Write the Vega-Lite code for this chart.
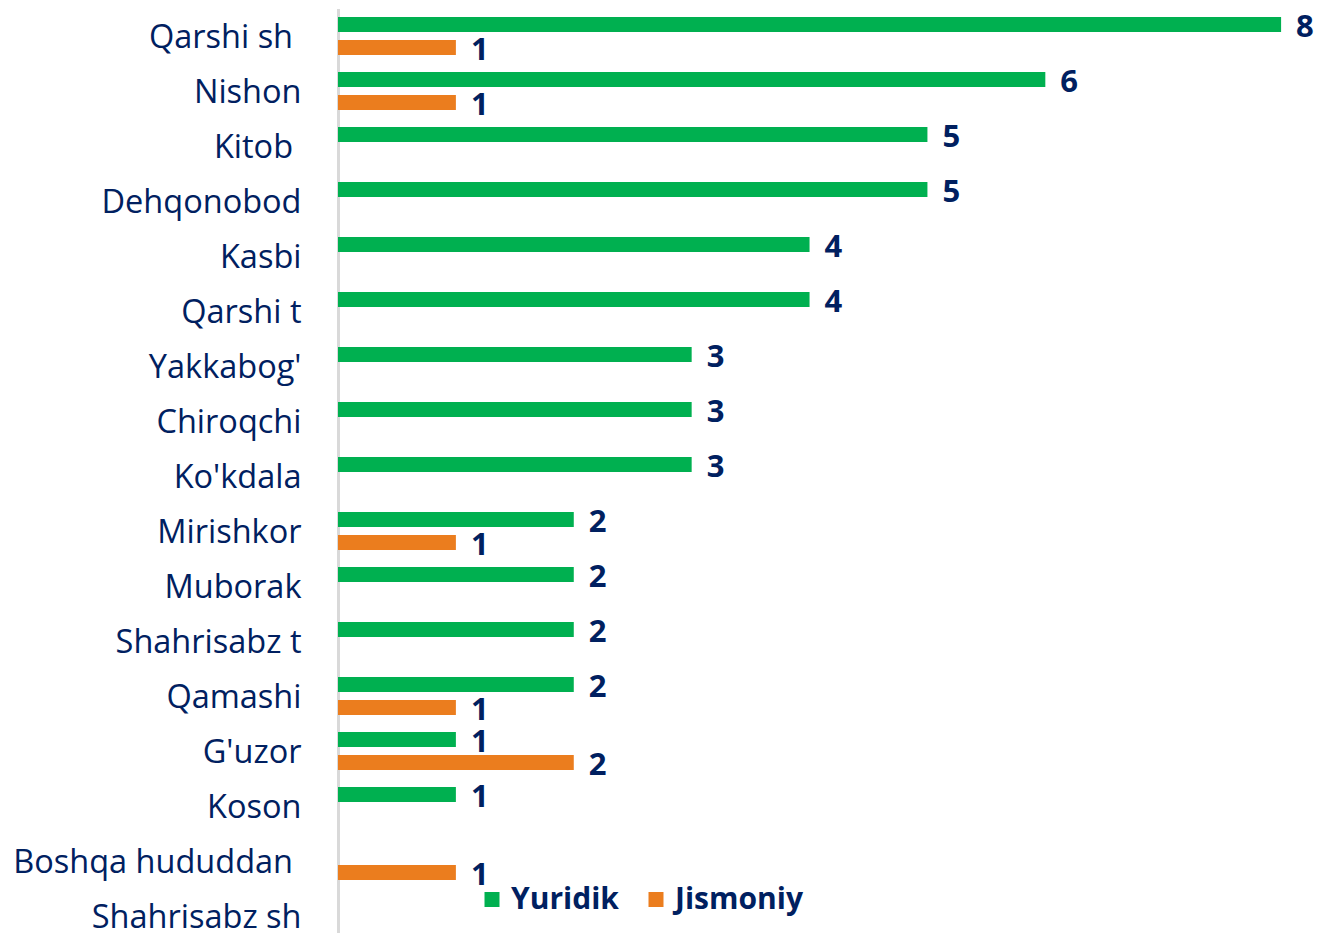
{
  "$schema": "https://vega.github.io/schema/vega-lite/v6.json",
  "autosize": {"type": "none"},
  "padding": {"left": 338, "top": 8.5, "right": 0, "bottom": 0},
  "width": 982,
  "height": 924.5,
  "background": "white",
  "config": {"view": {"stroke": null}},
  "data": {"values": [
    {"hudud": "Qarshi sh\u00a0\u200b", "tur": "Yuridik", "soni": 8},
    {"hudud": "Qarshi sh\u00a0\u200b", "tur": "Jismoniy", "soni": 1},
    {"hudud": "Nishon", "tur": "Yuridik", "soni": 6},
    {"hudud": "Nishon", "tur": "Jismoniy", "soni": 1},
    {"hudud": "Kitob\u00a0\u200b", "tur": "Yuridik", "soni": 5},
    {"hudud": "Dehqonobod", "tur": "Yuridik", "soni": 5},
    {"hudud": "Kasbi", "tur": "Yuridik", "soni": 4},
    {"hudud": "Qarshi t", "tur": "Yuridik", "soni": 4},
    {"hudud": "Yakkabog'", "tur": "Yuridik", "soni": 3},
    {"hudud": "Chiroqchi", "tur": "Yuridik", "soni": 3},
    {"hudud": "Ko'kdala", "tur": "Yuridik", "soni": 3},
    {"hudud": "Mirishkor", "tur": "Yuridik", "soni": 2},
    {"hudud": "Mirishkor", "tur": "Jismoniy", "soni": 1},
    {"hudud": "Muborak", "tur": "Yuridik", "soni": 2},
    {"hudud": "Shahrisabz t", "tur": "Yuridik", "soni": 2},
    {"hudud": "Qamashi", "tur": "Yuridik", "soni": 2},
    {"hudud": "Qamashi", "tur": "Jismoniy", "soni": 1},
    {"hudud": "G'uzor", "tur": "Yuridik", "soni": 1},
    {"hudud": "G'uzor", "tur": "Jismoniy", "soni": 2},
    {"hudud": "Koson", "tur": "Yuridik", "soni": 1},
    {"hudud": "Boshqa hududdan\u00a0\u200b", "tur": "Jismoniy", "soni": 1}
  ]},
  "encoding": {
    "y": {
      "field": "hudud", "type": "nominal",
      "scale": {
        "domain": ["Qarshi sh\u00a0\u200b", "Nishon", "Kitob\u00a0\u200b", "Dehqonobod", "Kasbi", "Qarshi t", "Yakkabog'", "Chiroqchi", "Ko'kdala", "Mirishkor", "Muborak", "Shahrisabz t", "Qamashi", "G'uzor", "Koson", "Boshqa hududdan\u00a0\u200b", "Shahrisabz sh"],
        "range": [0, 935],
        "paddingInner": 0, "paddingOuter": 0
      },
      "axis": {
        "title": null, "ticks": false, "domain": true, "domainColor": "#d9d9d9", "domainWidth": 3,
        "labelPadding": 37, "labelFont": "Open Sans", "labelFontSize": 32.5, "labelColor": "#002060",
        "labelLimit": 400, "grid": false, "labelOffset": 2
      }
    },
    "yOffset": {
      "field": "tur", "type": "nominal",
      "scale": {"domain": ["Yuridik", "Jismoniy"], "paddingInner": 0.348, "paddingOuter": 0.3695}
    },
    "x": {
      "field": "soni", "type": "quantitative",
      "scale": {"domain": [0, 8.33], "nice": false, "zero": true},
      "axis": null
    }
  },
  "layer": [
    {
      "mark": {"type": "bar", "cornerRadius": 0},
      "encoding": {
        "color": {
          "field": "tur", "type": "nominal",
          "scale": {"domain": ["Yuridik", "Jismoniy"], "range": ["#00b050", "#eb7d1e"]},
          "legend": {
            "title": null, "orient": "none", "direction": "horizontal",
            "legendX": 139, "legendY": 876,
            "symbolType": "square", "symbolSize": 225, "symbolStrokeWidth": 0,
            "labelFont": "Open Sans", "labelFontSize": 30, "labelFontWeight": "bold", "labelColor": "#002060",
            "columnPadding": 22, "labelOffset": 4
          }
        }
      }
    },
    {
      "mark": {"type": "text", "align": "left", "baseline": "middle", "dx": 15, "dy": 3.5, "font": "Open Sans", "fontSize": 31, "fontWeight": "bold", "color": "#002060"},
      "encoding": {"text": {"field": "soni", "type": "quantitative"}}
    }
  ]
}
